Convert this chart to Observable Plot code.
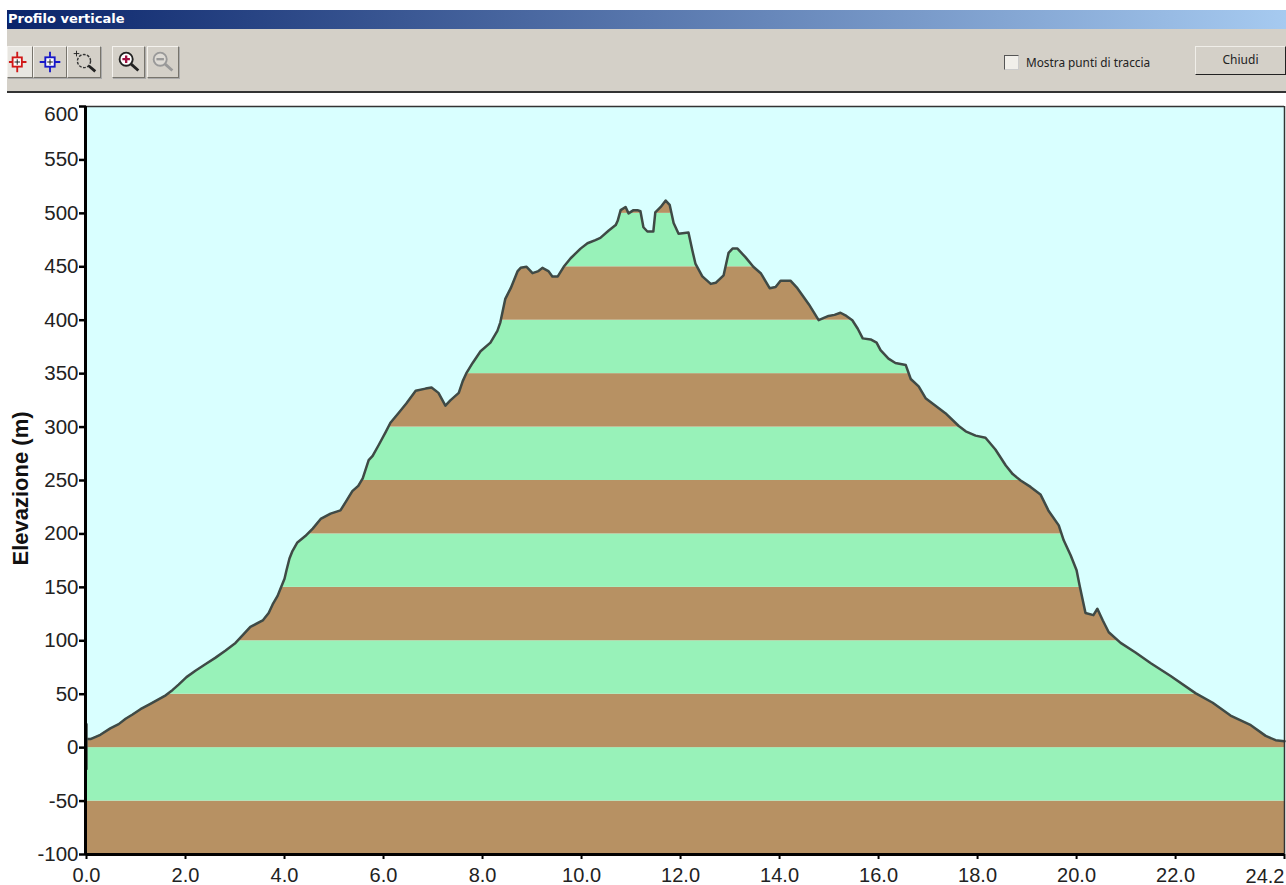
<!DOCTYPE html>
<html lang="it"><head><meta charset="utf-8"><title>Profilo verticale</title>
<script src="https://cdn.jsdelivr.net/npm/d3@7"></script>
<script src="https://cdn.jsdelivr.net/npm/@observablehq/plot@0.6"></script>
<style>
html,body{margin:0;padding:0;background:#fff;width:1286px;height:885px;overflow:hidden}
#titlebar{position:absolute;left:7px;top:10px;width:1279px;height:19px;background:linear-gradient(90deg,#0a246a,#a6caf0);color:#fff;font:bold 13px/18px "DejaVu Sans",sans-serif;letter-spacing:0}
#titlebar span{margin-left:1px}
#toolbar{position:absolute;left:7px;top:29px;width:1279px;height:62px;background:#d4d0c8;border-bottom:2px solid #333}
.btn{position:absolute;top:46px;height:32px;box-sizing:border-box;background:#d4d0c8;border:1px solid;border-color:#f4f2ee #77746c #77746c #f4f2ee;box-shadow:1px 1px 0 #aaa}
.btn svg{display:block;width:100%;height:100%}
#check{position:absolute;left:1004px;top:55px;width:15px;height:15px;box-sizing:border-box;background:#f1efea;border:1.5px solid;border-color:#555 #ccc #ccc #555}
#mostra{position:absolute;left:1026px;top:55px;font:11.8px/14px "Noto Sans","DejaVu Sans",sans-serif;color:#222}
#chiudi{position:absolute;left:1195px;top:46px;width:91px;height:29px;box-sizing:border-box;background:#d4d0c8;border:1.5px solid #222;border-top-color:#f0eee9;border-left-color:#f0eee9;text-align:center;font:12px/26px "Noto Sans","DejaVu Sans",sans-serif;color:#222}
#plot{position:absolute;left:0;top:0}
</style></head><body>
<div id="plot"></div>
<div id="toolbar"></div>
<div id="titlebar"><span>Profilo verticale</span></div>
<div class="btn" style="left:7px;width:26px;background:#e8e6e1"><svg viewBox="0 0 26 32"><path d="M10 5v22M1 16h19" stroke="#d01818" stroke-width="2"/><rect x="5" y="11" width="10" height="10" fill="#fff" stroke="#d01818" stroke-width="2"/><path d="M10 13v6M7 16h6" stroke="#111"/></svg></div>
<div class="btn" style="left:33px;width:34px"><svg viewBox="0 0 34 32"><path d="M17 5v22M6 16h22" stroke="#1818c8" stroke-width="2"/><rect x="12" y="11" width="10" height="10" fill="#fff" stroke="#1818c8" stroke-width="2"/><path d="M17 13v6M14 16h6" stroke="#111"/></svg></div>
<div class="btn" style="left:67px;width:34px"><svg viewBox="0 0 34 32"><circle cx="17" cy="15" r="7" fill="none" stroke="#333" stroke-dasharray="3 1.5" stroke-width="1.5"/><path d="M22 20l7 6" stroke="#222" stroke-width="3"/><path d="M9 4v6M6 7h6" stroke="#222"/></svg></div>
<div class="btn" style="left:112px;width:33px"><svg viewBox="0 0 33 32"><circle cx="14" cy="13" r="7" fill="#fff" stroke="#222" stroke-width="2"/><path d="M10 13h8M14 9v8" stroke="#a01040" stroke-width="2.5"/><path d="M19 18l8 7" stroke="#222" stroke-width="3"/></svg></div>
<div class="btn" style="left:147px;width:32px"><svg viewBox="0 0 32 32"><circle cx="13" cy="13" r="7" fill="#dedbd5" stroke="#999" stroke-width="2"/><path d="M9 13h8" stroke="#999" stroke-width="2.5"/><path d="M18 18l8 7" stroke="#999" stroke-width="3"/></svg></div>
<div id="check"></div>
<div id="mostra">Mostra punti di traccia</div>
<div id="chiudi">Chiudi</div>
<script>
const distanceKm = [0,0,0,.08,.28,.48,.65,.79,.93,1.09,1.29,1.6,1.74,1.86,2.02,2.2,2.4,2.6,2.81,3.01,3.17,3.31,3.56,3.68,3.76,3.86,3.92,4.0,4.04,4.1,4.16,4.26,4.42,4.57,4.73,4.93,5.13,5.25,5.37,5.49,5.58,5.7,5.78,5.9,6.04,6.14,6.3,6.46,6.65,6.85,6.97,7.11,7.25,7.35,7.52,7.6,7.68,7.8,7.96,8.16,8.3,8.36,8.46,8.57,8.71,8.77,8.89,9.01,9.13,9.21,9.33,9.41,9.52,9.64,9.78,9.98,10.12,10.28,10.38,10.55,10.69,10.73,10.79,10.89,10.95,11.05,11.13,11.19,11.25,11.33,11.45,11.49,11.6,11.7,11.78,11.86,11.96,12.16,12.24,12.3,12.44,12.61,12.71,12.87,12.97,13.05,13.15,13.31,13.47,13.62,13.8,13.92,14.02,14.22,14.36,14.59,14.79,14.99,15.11,15.23,15.35,15.47,15.58,15.68,15.84,15.96,16.04,16.2,16.34,16.55,16.65,16.81,16.95,17.15,17.35,17.62,17.76,17.96,18.16,18.36,18.57,18.71,18.87,19.07,19.27,19.43,19.64,19.74,19.88,20,20.06,20.18,20.34,20.42,20.53,20.65,20.89,21.19,21.5,21.9,22.4,22.75,23.11,23.52,23.82,24.02,24.2];
const elevationM = [-20,22,8,8,12,18,22,27,31,36,41,49,54,59,66,72,78,84,91,98,106,113,119,126,134,142,149,158,166,177,184,192,198,205,214,219,222,231,240,245,252,269,273,283,295,304,313,322,334,336,337,332,320,325,332,343,351,360,371,379,390,398,420,430,446,449,450,444,446,449,446,441,441,450,458,467,472,475,477,484,489,493,503,506,500,503,503,502,487,483,483,501,506,512,508,491,481,482,465,453,441,434,435,442,463,467,467,459,450,444,430,431,437,437,430,415,400,404,405,407,404,400,392,383,382,379,372,364,360,358,345,338,327,320,313,301,296,292,290,279,264,256,250,244,237,222,208,194,180,166,152,126,124,130,119,108,98,89,79,67,51,42,30,21,11,7,6];
const bandLow = [-100,-50,0,50,100,150,200,250,300,350,400,450,500,550];
const bandColors = ["#b79163","#98f2b9"];
const skyColor = "#d9ffff";
const lineColor = "#3f4a46";
const xTicks = [0,2,4,6,8,10,12,14,16,18,20,22,24.2];
const yTicks = [-100,-50,0,50,100,150,200,250,300,350,400,450,500,550,600];
const yAxisTitle = "Elevazione (m)";

const profile = distanceKm.map((km,i)=>({km,m:elevationM[i]}));
const bands = bandLow.map((low,i)=>({low,high:low+50,fill:bandColors[i%2]}));

const chart = Plot.plot({
  width:1286,height:885,marginLeft:86,marginRight:2,marginTop:106,marginBottom:31,
  style:{background:"transparent",fontFamily:"'Liberation Sans',Arial,sans-serif",overflow:"hidden"},
  x:{domain:[0,24.2]},
  y:{domain:[-100,600]},
  marks:[
    Plot.rect(bands,{x1:0,x2:24.2,y1:"low",y2:"high",fill:"fill"}),
    Plot.areaY(profile.slice(2),{x:"km",y1:"m",y2:600,fill:skyColor,curve:"linear"}),
    Plot.line(profile,{x:"km",y:"m",stroke:lineColor,strokeWidth:2.5,curve:"linear"}),
    Plot.ruleY([600],{stroke:"#333",strokeWidth:1.5}),
    Plot.ruleX([24.2],{stroke:"#333",strokeWidth:1.5}),
    Plot.ruleX([0],{stroke:"#000",strokeWidth:3,dx:-1}),
    Plot.ruleY([-100],{stroke:"#000",strokeWidth:3}),
    Plot.axisX({ticks:xTicks,tickFormat:d=>d===24.2?"":d.toFixed(1),label:null,tickSize:5,tickPadding:8,fontSize:20,stroke:"#000",strokeWidth:2,fill:"#222"}),
    Plot.text(["24.2"],{frameAnchor:"bottom-right",dx:0,dy:28,textAnchor:"end",lineAnchor:"bottom",fontSize:20,fill:"#222"}),
    Plot.axisY({ticks:yTicks,tickFormat:d=>d===600?"":String(d),label:null,tickSize:7,tickPadding:1,fontSize:20.5,stroke:"#000",strokeWidth:2.5,fill:"#222"}),
    Plot.text(["600"],{frameAnchor:"top-left",dx:-8,dy:0,textAnchor:"end",fontSize:20.5,fill:"#222"}),
    Plot.text([yAxisTitle],{frameAnchor:"left",dx:-66,dy:8,rotate:-90,textAnchor:"middle",fontSize:22,fontWeight:"bold",fill:"#111"})
  ]
});
document.getElementById("plot").appendChild(chart);
</script>
</body></html>
